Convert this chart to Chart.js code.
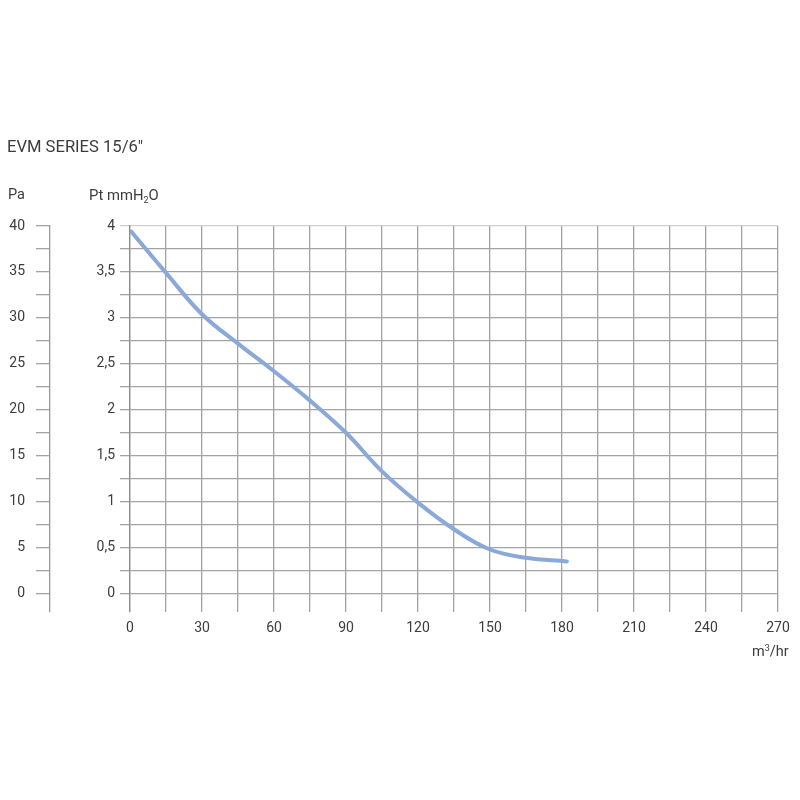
<!DOCTYPE html>
<html>
<head>
<meta charset="utf-8">
<script src="https://cdn.jsdelivr.net/npm/chart.js@4.4.1/dist/chart.umd.min.js"></script>
<style>
  html, body { margin: 0; padding: 0; background: #fff; }
  #wrap { position: relative; width: 800px; height: 800px; font-family: Roboto, "Open Sans", sans-serif; color: #3c3c3c; }
  canvas { position: absolute; left: 0; top: 0; }
  .lbl { position: absolute; white-space: nowrap; line-height: 1; }
</style>
</head>
<body>
<div id="wrap">
  <canvas id="c" width="800" height="800"></canvas>
  <div class="lbl" style="left:7px; top:139px; font-size:16.6px;">EVM SERIES 15/6"</div>
  <div class="lbl" style="left:8px; top:188px; font-size:14.5px;">Pa</div>
  <div class="lbl" style="left:89px; top:188px; font-size:14.8px;">Pt mmH<sub style="font-size:9px; vertical-align:-3px;">2</sub>O</div>
  <div class="lbl" style="left:752px; top:644px; font-size:14.5px;">m<sup style="font-size:9px; vertical-align:5px;">3</sup>/hr</div>
</div>
<script>
// Data
const flowValues = [0.5, 15, 30, 45, 60, 75, 90, 105, 120, 135, 150, 165, 182];          // m³/hr
const pressureValues = [3.94, 3.49, 3.04, 2.72, 2.42, 2.10, 1.75, 1.33, 0.99, 0.70, 0.48, 0.39, 0.35]; // mmH2O
const xTickLabels = [0, 30, 60, 90, 120, 150, 180, 210, 240, 270];
const mmTickLabels = ['0', '0,5', '1', '1,5', '2', '2,5', '3', '3,5', '4'];
const paTickLabels = ['0', '5', '10', '15', '20', '25', '30', '35', '40'];

const points = flowValues.map((x, i) => ({ x: x, y: pressureValues[i] }));
const gridColor = '#a3a3a3';
const textColor = '#3c3c3c';
const tickFont = { family: 'Roboto, "Open Sans", sans-serif', size: 14 };

new Chart(document.getElementById('c'), {
  type: 'line',
  data: {
    datasets: [{
      data: points,
      xAxisID: 'x',
      yAxisID: 'y',
      borderColor: '#8aa8d8',
      borderWidth: 4,
      pointRadius: 0,
      fill: false,
      tension: 0.4,
      borderCapStyle: 'round'
    }]
  },
  options: {
    responsive: false,
    animation: false,
    layout: { padding: { left: 0, top: 226, right: 22, bottom: 148 } },
    plugins: { legend: { display: false }, tooltip: { enabled: false }, title: { display: false } },
    scales: {
      x: {
        type: 'linear',
        position: 'bottom',
        min: 0,
        max: 270,
        afterFit: s => { s.height = 40; },
        ticks: {
          stepSize: 15,
          autoSkip: false,
          maxRotation: 0,
          padding: 8,
          color: textColor,
          font: tickFont,
          callback: v => xTickLabels.includes(v) ? String(v) : ''
        },
        grid: { color: gridColor, lineWidth: 1.3, drawTicks: false },
        border: { display: false }
      },
      y: {
        type: 'linear',
        position: 'left',
        weight: 0,
        min: -0.2,
        max: 4,
        afterFit: s => { s.width = 80; },
        afterBuildTicks: s => { s.ticks = s.ticks.filter(t => t.value >= 0); },
        ticks: {
          stepSize: 0.25,
          autoSkip: false,
          padding: 5,
          color: textColor,
          font: tickFont,
          callback: v => {
            const idx = Math.round(v * 2);
            return (Math.abs(v * 2 - idx) < 1e-6 && idx >= 0) ? mmTickLabels[idx] : '';
          }
        },
        grid: {
          color: ctx => (ctx.tick && ctx.tick.value === 4) ? '#cfcfcf' : gridColor,
          lineWidth: 1.3,
          tickLength: 10
        },
        border: { display: true, color: '#8f8f8f', width: 1.3 }
      },
      pa: {
        type: 'linear',
        position: 'left',
        weight: 1,
        min: -2,
        max: 40,
        afterFit: s => { s.width = 50; },
        afterBuildTicks: s => { s.ticks = s.ticks.filter(t => t.value >= 0); },
        ticks: {
          stepSize: 2.5,
          autoSkip: false,
          padding: 11,
          color: textColor,
          font: tickFont,
          callback: v => {
            const idx = Math.round(v / 5);
            return (Math.abs(v / 5 - idx) < 1e-6 && idx >= 0) ? paTickLabels[idx] : '';
          }
        },
        grid: { drawOnChartArea: false, color: gridColor, lineWidth: 1.3, tickLength: 14 },
        border: { display: true, color: '#9a9a9a', width: 1.3 }
      }
    }
  }
});
</script>
</body>
</html>
